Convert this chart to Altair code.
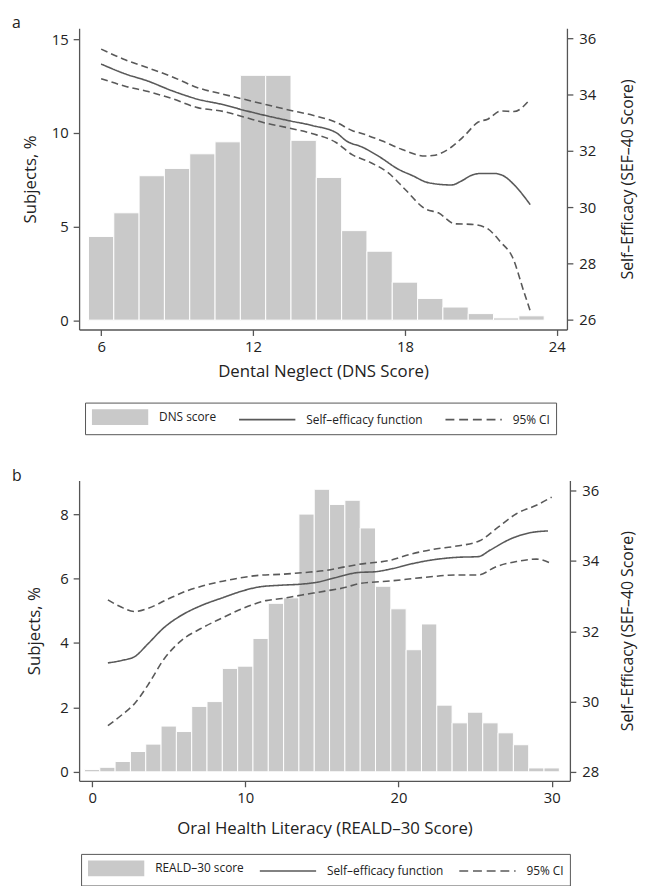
import altair as alt
import pandas as pd

# ---------------- Panel a: Dental neglect ----------------
dns_bins = [6, 7, 8, 9, 10, 11, 12, 13, 14, 15, 16, 17, 18, 19, 20, 21, 22, 23]
dns_pct = [4.47, 5.73, 7.71, 8.10, 8.88, 9.52, 13.07, 13.07, 9.60, 7.62, 4.78, 3.68, 2.03, 1.16, 0.70, 0.35, 0.12, 0.23]

a_fit_x = [6.0, 6.95, 7.86, 8.77, 9.81, 10.85, 11.63, 12.54, 13.45, 14.36, 15.3, 15.68, 16.33, 16.98, 17.76, 18.28, 18.93, 19.84, 20.23, 20.62, 21.01, 21.53, 21.92, 22.3, 22.95]
a_fit_y = [35.09, 34.74, 34.48, 34.15, 33.84, 33.64, 33.45, 33.25, 33.07, 32.90, 32.64, 32.36, 32.13, 31.80, 31.34, 31.13, 30.87, 30.79, 30.93, 31.13, 31.20, 31.20, 31.10, 30.81, 30.09]
a_up_x = [6.0, 6.95, 7.86, 8.77, 9.81, 10.85, 11.63, 12.54, 13.45, 14.36, 15.28, 15.93, 16.33, 17.11, 17.89, 18.80, 19.19, 19.84, 20.36, 20.88, 21.27, 21.79, 22.3, 22.95]
a_up_y = [35.62, 35.24, 34.95, 34.65, 34.25, 34.01, 33.84, 33.64, 33.45, 33.27, 33.02, 32.72, 32.61, 32.35, 32.05, 31.82, 31.85, 32.14, 32.55, 33.02, 33.13, 33.42, 33.40, 33.84]
a_lo_x = [6.0, 6.95, 7.86, 8.77, 9.81, 10.85, 11.63, 12.54, 13.45, 14.36, 15.28, 15.93, 16.59, 17.37, 18.02, 18.80, 19.32, 19.97, 20.62, 21.2, 21.79, 22.25, 22.7, 22.98]
a_lo_y = [34.57, 34.30, 34.11, 33.87, 33.54, 33.40, 33.21, 32.98, 32.81, 32.61, 32.30, 31.86, 31.61, 31.20, 30.62, 29.94, 29.80, 29.41, 29.39, 29.27, 28.75, 28.22, 26.99, 26.23]

# ---------------- Panel b: Oral health literacy ----------------
reald_bins = list(range(0, 31))
reald_pct = [0.07, 0.14, 0.32, 0.63, 0.86, 1.42, 1.25, 2.03, 2.18, 3.21, 3.28, 4.14, 5.23, 5.40, 8.00, 8.77,
             8.30, 8.43, 7.57, 5.76, 5.06, 3.79, 4.59, 2.07, 1.52, 1.85, 1.52, 1.21, 0.84, 0.12, 0.12]

b_fit_x = [1.03, 1.93, 2.78, 3.64, 4.71, 5.78, 7.07, 8.57, 9.85, 10.92, 12.42, 13.7, 14.78, 15.85, 17.4, 18.45, 19.5, 20.8, 22.1, 23.8, 25.2, 26.0, 27.3, 28.6, 29.76]
b_fit_y = [31.10, 31.17, 31.28, 31.64, 32.11, 32.44, 32.72, 32.96, 33.15, 33.26, 33.31, 33.34, 33.40, 33.52, 33.67, 33.69, 33.77, 33.91, 34.02, 34.10, 34.12, 34.31, 34.62, 34.80, 34.85]
b_up_x = [1.03, 1.93, 2.78, 3.64, 4.93, 6.2, 7.5, 9.2, 10.9, 12.4, 13.9, 15.3, 16.5, 17.4, 19.5, 20.8, 22.3, 23.8, 25.3, 26.4, 27.7, 29.0, 30.0]
b_up_y = [32.89, 32.68, 32.56, 32.65, 32.91, 33.15, 33.32, 33.48, 33.59, 33.62, 33.67, 33.73, 33.83, 33.90, 34.02, 34.19, 34.33, 34.42, 34.57, 34.92, 35.34, 35.58, 35.81]
b_lo_x = [1.03, 1.93, 2.78, 3.64, 4.71, 5.78, 7.07, 8.35, 9.85, 11.35, 12.42, 13.7, 15.2, 16.49, 17.4, 19.5, 21.7, 23.8, 25.2, 26.4, 27.7, 29.0, 30.0]
b_lo_y = [29.32, 29.62, 29.95, 30.47, 31.22, 31.72, 32.07, 32.35, 32.65, 32.87, 32.93, 33.03, 33.14, 33.24, 33.35, 33.43, 33.53, 33.60, 33.60, 33.84, 33.98, 34.05, 33.92]

FIT = "Self\u2013efficacy function"
CI = "95% CI"
FONT = "Open Sans"
AX = "#555555"
BAR = "#c9c9c9"
LINE = "#595959"

# legend key outlines: unit = half the symbol size; drawn from -1 to 6.6 (about 57 px)
SWATCH = "M-1,-1.07H6.6V1.07H-1Z"
SOLID = "M-1,0H6.6"
DASHED = "M-1,0H0.2M0.85,0H2.05M2.7,0H3.9M4.55,0H5.75M6.4,0H6.6"


def panel(letter, bins, pct, hist_label, fit, up, lo, xdom, ldom, rdom,
          xticks, lticks, rticks, xtitle, width, height, leg_x, leg_y,
          col_pad, ltitle_pad, rtitle_pad, xtitle_pad):
    dfb = pd.DataFrame({
        "lo": [b - 0.5 for b in bins],
        "hi": [b + 0.5 for b in bins],
        "pct": pct,
        "base": [0] * len(bins),
        "series": [hist_label] * len(bins),
    })
    rows = []
    for part, (xs, ys) in [("fit", fit), ("upper", up), ("lower", lo)]:
        for xv, yv in zip(xs, ys):
            rows.append({"x": xv, "y": yv, "part": part})
    dfl = pd.DataFrame(rows)

    dom = [hist_label, FIT, CI]
    legend = alt.Legend(
        title=None, orient="none", legendX=leg_x, legendY=leg_y,
        direction="horizontal", columns=3, columnPadding=col_pad,
        symbolSize=225, symbolStrokeWidth=1.6, symbolOpacity=1, labelOffset=52,
        labelFont=FONT, labelFontSize=12, labelColor="#222222",
        padding=6, strokeColor=AX, fillColor="white",
    )
    xscale = alt.Scale(domain=xdom, nice=False, zero=False)
    xaxis = alt.Axis(values=xticks, title=xtitle, format="d", tickSize=6, labelPadding=4,
                     titlePadding=xtitle_pad)
    lscale = alt.Scale(domain=ldom, nice=False, zero=False)
    laxis = alt.Axis(values=lticks, title="Subjects, %", orient="left", format="d",
                     tickSize=6, labelPadding=5, titlePadding=ltitle_pad)

    bars = alt.Chart(dfb).mark_rect(fill=BAR, stroke="white", strokeWidth=1).encode(
        x=alt.X("lo:Q", scale=xscale, axis=xaxis),
        x2="hi:Q",
        y=alt.Y("pct:Q", scale=lscale, axis=laxis),
        y2="base:Q",
    )
    keys = alt.Chart(dfb).mark_point(opacity=0).encode(
        x=alt.X("lo:Q", scale=xscale, axis=xaxis),
        y=alt.Y("pct:Q", scale=lscale, axis=laxis),
        shape=alt.Shape("series:N", scale=alt.Scale(domain=dom, range=[SWATCH, SOLID, DASHED]),
                        legend=legend),
        fill=alt.Fill("series:N", scale=alt.Scale(domain=dom, range=[BAR, "transparent", "transparent"]),
                      legend=legend),
        stroke=alt.Stroke("series:N", scale=alt.Scale(domain=dom, range=["transparent", LINE, LINE]),
                          legend=legend),
    )
    lines = alt.Chart(dfl).mark_line(strokeWidth=1.6, interpolate="monotone", color=LINE).encode(
        x=alt.X("x:Q", scale=xscale, axis=xaxis),
        y=alt.Y("y:Q", scale=alt.Scale(domain=rdom, nice=False, zero=False),
                axis=alt.Axis(values=rticks, title="Self\u2013Efficacy (SEF\u201340 Score)",
                              orient="right", format="d", tickSize=6, labelPadding=6,
                              titlePadding=rtitle_pad, titleAngle=270, titleFontSize=16)),
        strokeDash=alt.StrokeDash("part:N",
                                  scale=alt.Scale(domain=["fit", "upper", "lower"],
                                                  range=[[1, 0], [7, 4], [7, 4]]),
                                  legend=None),
    )
    return alt.layer(alt.layer(bars, keys), lines).resolve_scale(y="independent").properties(
        width=width, height=height,
        title=alt.TitleParams(letter, anchor="start", frame="group", dx=-68, font=FONT,
                              fontSize=16, fontWeight="normal", color="#222222", offset=-3),
    )


pa = panel("a", dns_bins, dns_pct, "DNS score",
           (a_fit_x, a_fit_y), (a_up_x, a_up_y), (a_lo_x, a_lo_y),
           [5.13, 24.4], [-0.5, 15.58], [25.65, 36.36],
           [6, 12, 18, 24], [0, 5, 10, 15], [26, 28, 30, 32, 34, 36],
           "Dental Neglect (DNS Score)", 494, 305, 6, 379, 19, 12, 40, 10)
pb = panel("b", reald_bins, reald_pct, "REALD\u201330 score",
           (b_fit_x, b_fit_y), (b_up_x, b_up_y), (b_lo_x, b_lo_y),
           [-0.85, 31.19], [-0.28, 9.04], [27.75, 36.28],
           [0, 10, 20, 30], [0, 2, 4, 6, 8], [28, 30, 32, 34, 36],
           "Oral Health Literacy (REALD\u201330 Score)", 497, 304, 2, 378, 12, 17, 37, 15)

chart = alt.vconcat(pa, pb, spacing=33).resolve_scale(
    fill="independent", stroke="independent", shape="independent", strokeDash="independent"
).properties(
    padding={"left": 4, "top": 2, "right": 6, "bottom": 0}
).configure_view(stroke=None).configure_axis(
    grid=False, domainColor=AX, tickColor=AX, domainWidth=1.3, tickWidth=1.3,
    labelFont=FONT, labelFontSize=15, labelColor="#222222",
    titleFont=FONT, titleFontSize=17, titleFontWeight="normal", titleColor="#222222",
)

chart.save("out.html", embed_options={"renderer": "svg", "actions": False})
